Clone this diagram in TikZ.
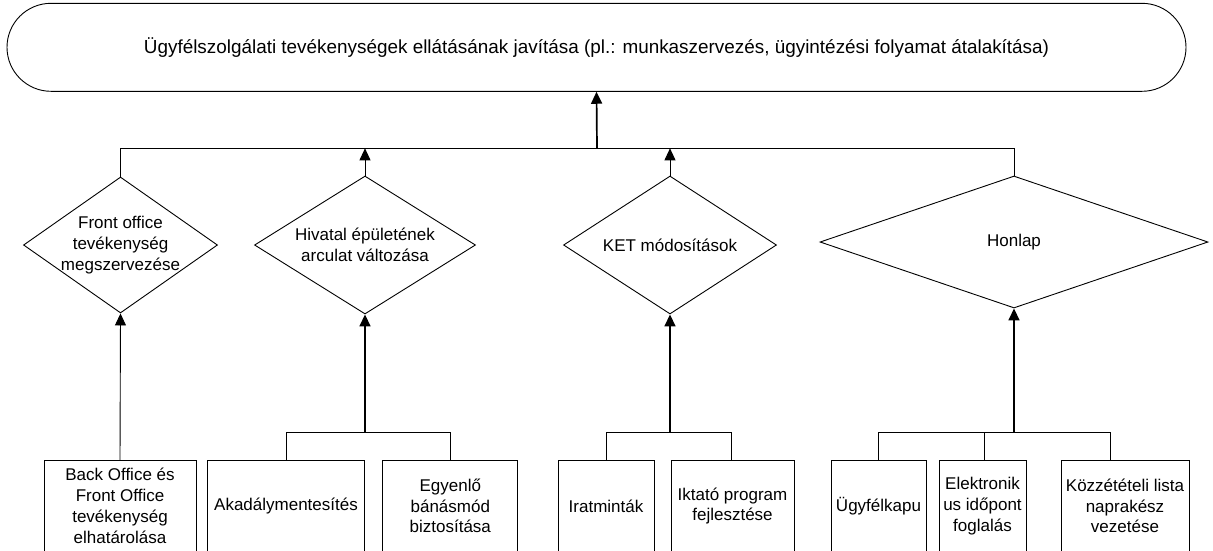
\documentclass[tikz,border=0pt]{standalone}
\usepackage{fontspec}
\setmainfont{Liberation Sans}
\usetikzlibrary{arrows.meta,shapes.geometric,shapes.misc}

\begin{document}
\begin{tikzpicture}[x=1pt,y=-1pt,
  line join=miter,
  every node/.style={font=\fontsize{17}{20.8}\selectfont, align=center, inner sep=0pt},
  goalbox/.style={draw, rounded rectangle, minimum width=1179pt, minimum height=88pt, line width=0.9pt},
  choice/.style={draw, diamond, line width=0.9pt},
  taskbox/.style={draw, rectangle, minimum height=91pt, line width=0.9pt},
  thin link/.style={line width=0.9pt},
  thick link/.style={line width=1.7pt},
  tip/.style={-{Triangle[width=11pt,length=12pt]}},
]
\useasboundingbox (0,0) rectangle (1213,550);
\clip (0,0) rectangle (1213,550);

% top-level goal
\node[goalbox, font=\fontsize{18.9}{22}\selectfont] (goal) at (596.5,47.3)
  {Ügyfélszolgálati tevékenységek ellátásának javítása (pl.: munkaszervezés, ügyintézési folyamat átalakítása)};

% intermediate measures (diamonds, text placed over them)
\node[choice, minimum width=194pt, minimum height=136pt] (fo) at (120.5,245) {};
\node at (fo) {Front office\\tevékenység\\megszervezése};
\node[choice, minimum width=221pt, minimum height=138pt] (hv) at (365,245) {};
\node at (hv) {Hivatal épületének\\arculat változása};
\node[choice, minimum width=213pt, minimum height=138pt] (ket) at (670,245) {};
\node at (ket) {KET módosítások};
\node[choice, minimum width=388pt, minimum height=132pt] (hon) at (1014,242) {};
\node at (hon) {Honlap};

% concrete tasks
\node[taskbox, minimum width=152pt] (bo) at (120,506) {Back Office és\\Front Office\\tevékenység\\elhatárolása};
\node[taskbox, minimum width=157pt] (ak) at (286,506) {Akadálymentesítés};
\node[taskbox, minimum width=135pt] (eg) at (450.3,506) {Egyenlő\\bánásmód\\biztosítása};
\node[taskbox, minimum width=96pt] (ir) at (606,506) {Iratminták};
\node[taskbox, minimum width=123pt] (ik) at (732.5,506) {Iktató program\\fejlesztése};
\node[taskbox, minimum width=95pt] (uk) at (878.5,506) {Ügyfélkapu};
\node[taskbox, minimum width=87pt] (el) at (982.5,506) {Elektronik\\us időpont\\foglalás};
\node[taskbox, minimum width=128pt] (ko) at (1125,506) {Közzétételi lista\\naprakész\\vezetése};

% junction points
\coordinate (topbus) at (597,148.3);
\coordinate (hvbus) at (365,432.3);
\coordinate (ketbus) at (670,432.3);
\coordinate (honbus) at (1014,432.3);

% diamonds up to the goal
\draw[thin link] (fo.north) -- (fo.north |- topbus) -- (hon.north |- topbus) -- (hon.north);
\draw[thin link, tip] (hv.north) -- (hv.north |- topbus);
\draw[thin link, tip] (ket.north) -- (ket.north |- topbus);
\draw[thick link, tip] (topbus) -- (goal.south);

% tasks up to the diamonds
\draw[thin link, tip] (bo.north) -- (fo.south);

\draw[thin link] (ak.north) |- (hvbus);
\draw[thin link] (eg.north) |- (hvbus);
\draw[thick link, tip] (hvbus) -- (hv.south);

\draw[thin link] (ir.north) |- (ketbus);
\draw[thin link] ([xshift=-1.5pt]ik.north) |- (ketbus);
\draw[thick link, tip] (ketbus) -- (ket.south);

\draw[thin link] (uk.north) |- (honbus);
\draw[thin link] ([xshift=1.5pt]el.north) |- (honbus);
\draw[thin link] ([xshift=-15pt]ko.north) |- (honbus);
\draw[thick link, tip] (honbus) -- (hon.south);
\end{tikzpicture}
\end{document}
